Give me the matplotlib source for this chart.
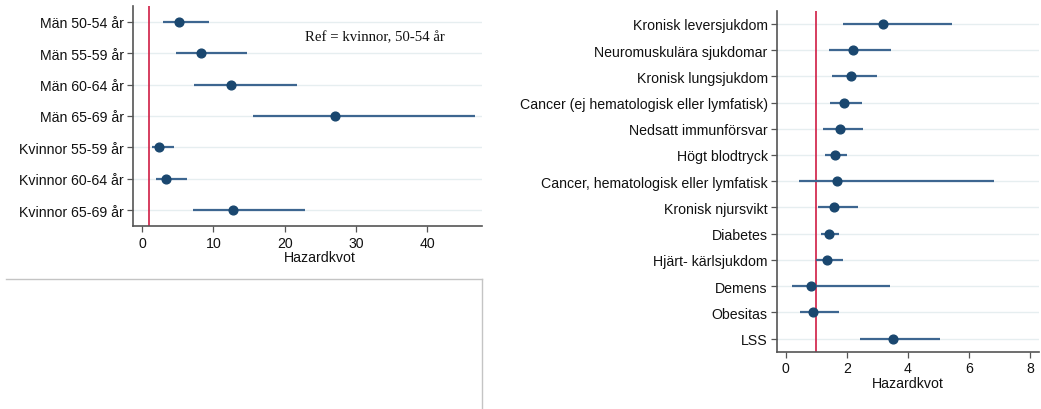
import matplotlib
matplotlib.use("Agg")
import matplotlib.pyplot as plt
from matplotlib.lines import Line2D
import numpy as np

# Left panel: age/sex groups (ref = kvinnor 50-54 år)
age_labels = ["Män 50-54 år", "Män 55-59 år", "Män 60-64 år", "Män 65-69 år",
              "Kvinnor 55-59 år", "Kvinnor 60-64 år", "Kvinnor 65-69 år"]
age_hr = [5.2, 8.3, 12.4, 27.1, 2.4, 3.4, 12.7]
age_lo = [2.9, 4.7, 7.2, 15.6, 1.3, 1.9, 7.1]
age_hi = [9.4, 14.7, 21.7, 46.7, 4.4, 6.3, 22.8]

# Right panel: risk factors
risk_labels = ["Kronisk leversjukdom", "Neuromuskulära sjukdomar", "Kronisk lungsjukdom",
               "Cancer (ej hematologisk eller lymfatisk)", "Nedsatt immunförsvar",
               "Högt blodtryck", "Cancer, hematologisk eller lymfatisk",
               "Kronisk njursvikt", "Diabetes", "Hjärt- kärlsjukdom",
               "Demens", "Obesitas", "LSS"]
risk_hr = [3.18, 2.20, 2.12, 1.90, 1.76, 1.61, 1.68, 1.57, 1.42, 1.35, 0.82, 0.90, 3.50]
risk_lo = [1.86, 1.40, 1.51, 1.44, 1.23, 1.29, 0.43, 1.06, 1.16, 0.99, 0.20, 0.48, 2.44]
risk_hi = [5.46, 3.44, 3.00, 2.49, 2.53, 2.01, 6.83, 2.35, 1.74, 1.87, 3.42, 1.75, 5.06]

left_ticks = [0, 10, 20, 30, 40]
right_ticks = [0, 2, 4, 6, 8]

plt.rcParams['font.family'] = ['Liberation Sans', 'DejaVu Sans']

W, H = 1041, 410
fig = plt.figure(figsize=(W / 100, H / 100), dpi=100)

marker_col = "#1a476f"
ci_col = "#3d6690"
ref_col = "#d01c44"
spine_col = "#555555"
FS = 10.2


def forest(ax, labels, hr, lo, hi, xlim, xticks):
    y = np.arange(1, len(labels) + 1)
    ax.hlines(y, lo, hi, color=ci_col, lw=1.6, zorder=3)
    ax.plot(hr, y, "o", color=marker_col, ms=6.3, zorder=4)
    ax.axvline(1, color=ref_col, lw=1.2, zorder=2)
    ax.set_ylim(len(labels) + 0.5, 0.5)
    ax.set_xlim(*xlim)
    ax.set_yticks(y)
    ax.set_yticklabels(labels, fontsize=FS, color="#111111")
    ax.set_xticks(xticks)
    ax.set_xticklabels([str(t) for t in xticks], fontsize=FS, color="#111111")
    ax.grid(axis="y", color="#e6eef0", lw=1.0, zorder=0)
    ax.set_axisbelow(True)
    for s in ["top", "right"]:
        ax.spines[s].set_visible(False)
    for s in ["left", "bottom"]:
        ax.spines[s].set_color(spine_col)
        ax.spines[s].set_linewidth(1.2)
    ax.tick_params(axis="both", color=spine_col, length=4.5, width=0.9)
    ax.tick_params(axis="y", pad=2)
    ax.tick_params(axis="x", pad=2.5)
    ax.set_xlabel("Hazardkvot", fontsize=FS, color="#111111", labelpad=0.5)


ax1 = fig.add_axes([133 / W, 1 - 227 / H, (482 - 133) / W, (227 - 7) / H])
forest(ax1, age_labels, age_hr, age_lo, age_hi, (-1.3, 47.7), left_ticks)
ax1.xaxis.set_label_coords(0.536, -0.108)
ax1.text(22.9, 1.48, "Ref = kvinnor, 50-54 år", family="Liberation Serif",
         fontsize=10.6, va="center", ha="left", color="#111111")

ax2 = fig.add_axes([776.7 / W, 1 - 352.7 / H, (1039 - 776.7) / W, (352.7 - 11.7) / H])
forest(ax2, risk_labels, risk_hr, risk_lo, risk_hi, (-0.3, 8.3), right_ticks)

# empty graph region frame below the left panel
box_col = "#c4c4c4"
fig.add_artist(Line2D([6 / W, 482 / W], [1 - 280 / H, 1 - 280 / H],
                      transform=fig.transFigure, color=box_col, lw=1.0))
fig.add_artist(Line2D([482 / W, 482 / W], [1 - 280 / H, 0],
                      transform=fig.transFigure, color=box_col, lw=1.0))

fig.savefig("out.png", dpi=100)
